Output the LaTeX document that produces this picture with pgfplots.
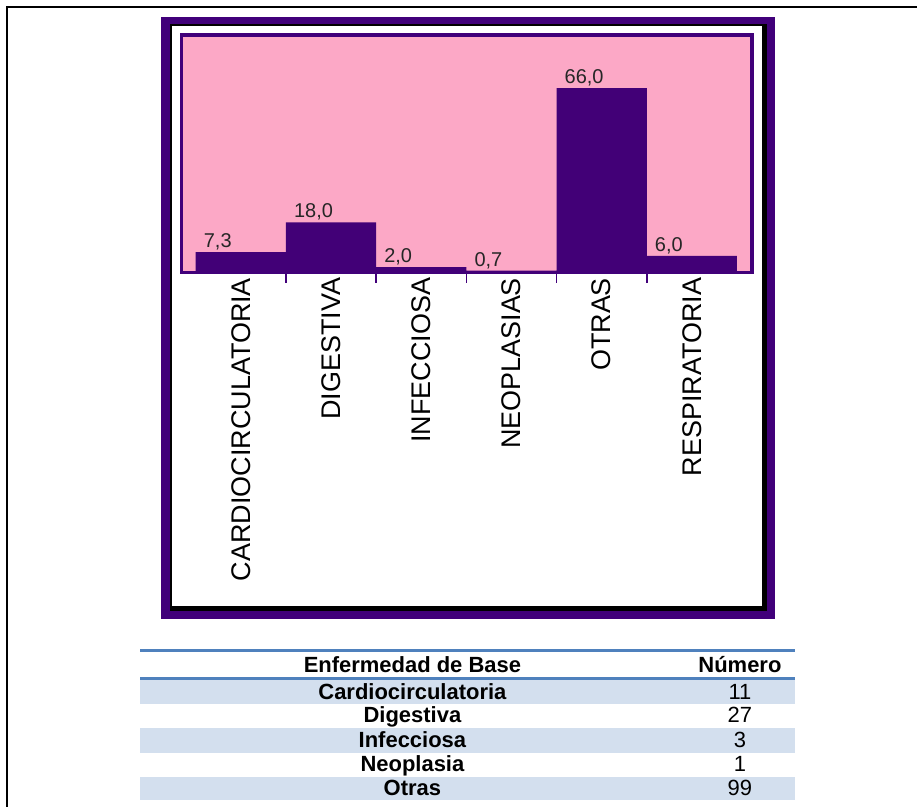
\documentclass[border=0pt]{standalone}
\usepackage{pgfplots}
\pgfplotsset{compat=1.18}
\usepackage{fontspec}
\setmainfont{Liberation Sans}
\definecolor{frame}{HTML}{41007A}
\definecolor{barc}{HTML}{420077}
\definecolor{plotbg}{HTML}{FCA8C6}
\definecolor{rulec}{HTML}{4F81BD}
\definecolor{band}{HTML}{D3DFEE}

\begin{document}
\begin{tikzpicture}[x=0.5pt,y=-0.5pt]
% page and its border
\path[fill=white] (0,0) rectangle (918,808);
\draw[line width=1.3pt, black] (7,808) -- (7,7) -- (918,7);

% chart frame
\fill[frame] (161,17) rectangle (776,620);
\fill[black] (170,24) rectangle (768,612);
\fill[white] (172,26) rectangle (763,607);

\begin{axis}[
  at={(91pt,-136.5pt)}, anchor=south west,
  scale only axis, width=285.5pt, height=119pt,
  xmin=-0.655, xmax=5.666, ymin=0, ymax=85,
  axis background/.style={fill=plotbg},
  axis line style={draw=frame, line width=1.6pt},
  ytick=\empty,
  xtick={0,...,5},
  xticklabels={CARDIOCIRCULATORIA,DIGESTIVA,INFECCIOSA,NEOPLASIAS,OTRAS,RESPIRATORIA},
  major tick length=0pt,
  minor xtick={0.5,1.5,...,4.5},
  minor tick length=5pt,
  tick align=outside,
  xtick pos=lower,
  tick style={draw=frame, line width=0.8pt},
  x tick label style={rotate=90, anchor=east, font=\fontsize{13.5}{15}\selectfont, inner sep=2.5pt},
  ybar, bar width=1,
  nodes near coords={\pgfmathprintnumber[fixed,fixed zerofill,precision=1,use comma,assume math mode=true]{\pgfplotspointmeta}},
  every node near coord/.append style={font=\fontsize{10}{11}\selectfont, anchor=south west, xshift=-19.5pt, inner sep=0.8pt, text=black!85},
]
\addplot[fill=barc, draw=none] coordinates {(0,7.3) (1,18.0) (2,2.0) (3,0.7) (4,66.0) (5,6.0)};
\end{axis}

% data table below the chart
\fill[band] (140,681) rectangle (796,705);
\fill[band] (140,729) rectangle (796,754);
\fill[band] (140,778) rectangle (796,801);
\fill[rulec] (140,650) rectangle (796,653);
\fill[rulec] (140,678) rectangle (796,681);
\begin{scope}[every node/.style={inner sep=0pt, anchor=base, font=\fontsize{11}{12}\selectfont}]
\node[font=\fontsize{11}{12}\selectfont\bfseries] at (413,673) {Enfermedad de Base};
\node[font=\fontsize{11}{12}\selectfont\bfseries] at (741,673) {Número};
\node[font=\fontsize{11}{12}\selectfont\bfseries] at (413,700) {Cardiocirculatoria};
\node at (741,700) {11};
\node[font=\fontsize{11}{12}\selectfont\bfseries] at (413,724) {Digestiva};
\node at (741,724) {27};
\node[font=\fontsize{11}{12}\selectfont\bfseries] at (413,748.5) {Infecciosa};
\node at (741,748.5) {3};
\node[font=\fontsize{11}{12}\selectfont\bfseries] at (413,773) {Neoplasia};
\node at (741,773) {1};
\node[font=\fontsize{11}{12}\selectfont\bfseries] at (413,797) {Otras};
\node at (741,797) {99};
\end{scope}
\end{tikzpicture}
\end{document}
